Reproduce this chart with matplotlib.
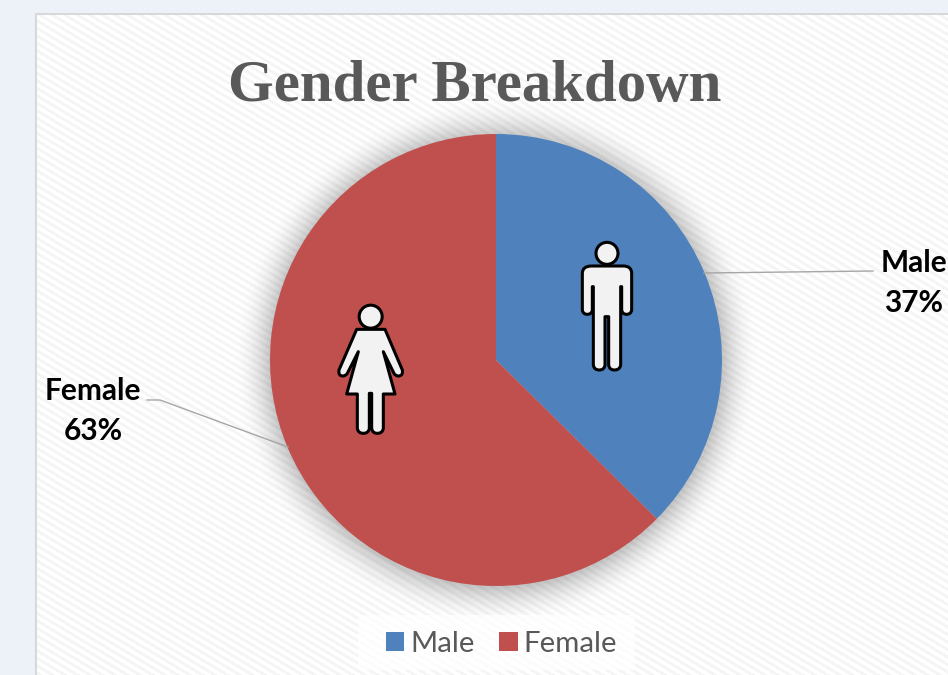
import numpy as np
import matplotlib
matplotlib.use("Agg")
import matplotlib.pyplot as plt
from matplotlib.path import Path
from matplotlib.patches import PathPatch, Circle, Rectangle

# Chart data
categories = ["Male", "Female"]
shares = [37.4, 62.6]
colors = ["#4F81BD", "#C0504D"]
title = "Gender Breakdown"

W, H = 948, 675
cx, cy, radius = 496, 360, 226

fig = plt.figure(figsize=(W / 100, H / 100), dpi=100)

# Background: page tint, striped panel and soft shadow round the pie
yy, xx = np.mgrid[0:H, 0:W]
stripes = ((xx * 0.6 - yy) % 7.5) < 3.5
panel = np.where(stripes, 0.962, 1.0)
dist = np.hypot(xx - cx, yy - (cy + 1))
shadow = np.clip((radius + 36 - dist) / 36, 0, 1) ** 1.8 * 0.22
panel = panel * (1 - shadow)
img = np.dstack([panel, panel, panel])
page = np.array([0.93, 0.95, 0.98])
img[(xx < 37) | (yy < 15)] = page
img[((xx >= 35) & (xx < 37) & (yy >= 13)) | ((yy >= 13) & (yy < 15) & (xx >= 35))] = 0.85

bg = fig.add_axes([0, 0, 1, 1])
bg.imshow(img, extent=(0, W, H, 0), aspect="auto", interpolation="bilinear")
bg.set_xlim(0, W)
bg.set_ylim(H, 0)
bg.axis("off")

# Pie
box = radius * 1.25
pie_ax = fig.add_axes([(cx - box) / W, 1 - (cy + box) / H, 2 * box / W, 2 * box / H])
pie_ax.patch.set_alpha(0)
wedges, _ = pie_ax.pie(shares, colors=colors, startangle=90, counterclock=False)
pie_ax.set_xlim(-1.25, 1.25)
pie_ax.set_ylim(-1.25, 1.25)

# Overlay in pixel coordinates
ov = fig.add_axes([0, 0, 1, 1])
ov.patch.set_alpha(0)
ov.set_xlim(0, W)
ov.set_ylim(H, 0)
ov.axis("off")

ov.text(475, 87, title, family="Liberation Serif", weight="bold", fontsize=42.4,
        color="#595959", ha="center", va="center")

# Leader lines
ov.plot([704, 873], [273, 271], color="#A6A6A6", lw=1)
ov.plot([288, 160, 147], [447, 400, 400], color="#A6A6A6", lw=1)

# Data labels
ov.text(914, 283, f"{categories[0]}\n{shares[0]:.0f}%", family="Lato", weight="bold", fontsize=21.5,
        color="black", ha="center", va="center", linespacing=1.5)
ov.text(93, 411, f"{categories[1]}\n{shares[1]:.0f}%", family="Lato", weight="bold", fontsize=21.5,
        color="black", ha="center", va="center", linespacing=1.5)


def icon(points, ox, oy):
    # points are (x, y) for lines or (cx, cy, x, y) for a rounded corner, in 3x crop units
    verts, codes = [], []
    for i, p in enumerate(points):
        if len(p) == 2:
            verts.append(p)
            codes.append(Path.MOVETO if i == 0 else Path.LINETO)
        else:
            verts += [p[:2], p[2:]]
            codes += [Path.CURVE3, Path.CURVE3]
    verts.append(points[0][:2])
    codes.append(Path.CLOSEPOLY)
    verts = np.array(verts, float) / 3 + [ox, oy]
    ov.add_patch(PathPatch(Path(verts, codes), fc="#F2F2F2", ec="black", lw=2.2, joinstyle="round"))


# Male figure
ov.add_patch(Circle((560 + 141 / 3, 230 + 70 / 3), 11, fc="#F2F2F2", ec="black", lw=2.2))
icon([(95, 108), (190, 108), (215, 108, 215, 130), (215, 240), (213, 253, 200, 253), (187, 253, 185, 240),
      (185, 170), (182, 170), (182, 405), (180, 420, 163, 420), (148, 420, 146, 405), (146, 260),
      (135, 260), (135, 405), (133, 420, 118, 420), (102, 420, 100, 405), (100, 170), (97, 170),
      (97, 240), (95, 253, 82, 253), (69, 253, 67, 240), (67, 130), (67, 108, 95, 108)], 560, 230)

# Female figure
ov.add_patch(Circle((320 + 152 / 3, 295 + 65 / 3), 11.5, fc="#F2F2F2", ec="black", lw=2.2))
icon([(110, 103), (195, 103), (247, 225), (250, 243, 235, 243), (226, 243, 222, 235), (190, 170),
      (225, 297), (190, 297), (190, 400), (188, 415, 172, 415), (157, 415, 155, 400), (155, 295),
      (148, 295), (148, 400), (146, 415, 130, 415), (114, 415, 112, 400), (112, 297), (80, 297),
      (115, 170), (82, 235), (78, 243, 68, 243), (54, 243, 57, 225)], 320, 295)

# Legend
ov.add_patch(Rectangle((358, 615), 277, 55, fc="white", ec="none", alpha=0.75))
leg = ov.legend(wedges, categories, loc="center", bbox_to_anchor=(501.5 / W, 1 - 644 / H), ncol=2,
                frameon=False, prop={"family": "Lato", "size": 21.2}, labelcolor="#595959",
                handlelength=0.62, handleheight=0.62, handletextpad=0.2, columnspacing=0.85)

fig.savefig("out.png", dpi=100)
